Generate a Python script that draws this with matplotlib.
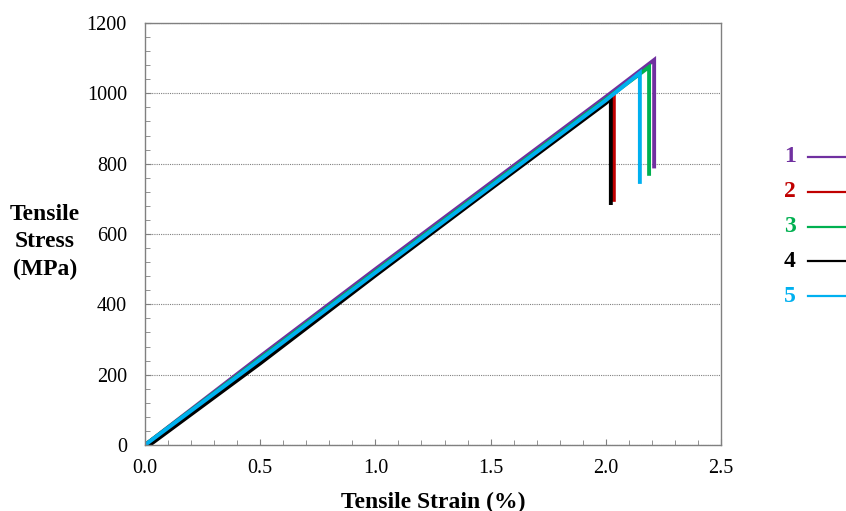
import numpy as np
import matplotlib
matplotlib.use("Agg")
import matplotlib.pyplot as plt
from matplotlib.lines import Line2D
from matplotlib.ticker import MultipleLocator

plt.rcParams['font.family'] = ['Liberation Serif', 'DejaVu Serif']

# strain (%) / stress (MPa) for the five specimens
strain_1 = [0.0, 0.5, 1.0, 1.5, 2.0, 2.21, 2.21]
stress_1 = [0, 252, 500, 745, 990, 1095, 792]
strain_2 = [0.0, 0.5, 1.0, 1.5, 2.0, 2.035, 2.035]
stress_2 = [0, 240, 488, 733, 975, 992, 697]
strain_3 = [0.0, 0.5, 1.0, 1.5, 2.0, 2.188, 2.188]
stress_3 = [0, 246, 493, 738, 983, 1075, 771]
strain_4 = [0.02, 0.5, 1.0, 1.5, 2.0, 2.022, 2.022]
stress_4 = [0, 232, 482, 728, 972, 985, 688]
strain_5 = [0.0, 0.5, 1.0, 1.5, 2.0, 2.148, 2.148]
stress_5 = [0, 243, 490, 735, 980, 1058, 748]

labels = ['1', '2', '3', '4', '5']
colors = ['#7030A0', '#C00000', '#00B050', '#000000', '#00B0F0']
strains = [strain_1, strain_2, strain_3, strain_4, strain_5]
stresses = [stress_1, stress_2, stress_3, stress_4, stress_5]

fig = plt.figure(figsize=(8.46, 5.11), dpi=100)
ax = fig.add_axes([0.1714, 0.1292, 0.6808, 0.8258])

for x, y, c in zip(strains, stresses, colors):
    ax.plot(x, y, color=c, lw=2.8, solid_joinstyle='miter')

ax.set_xlim(0, 2.5)
ax.set_ylim(0, 1200)
ax.xaxis.set_major_locator(MultipleLocator(0.5))
ax.xaxis.set_minor_locator(MultipleLocator(0.1))
ax.yaxis.set_major_locator(MultipleLocator(200))
ax.yaxis.set_minor_locator(MultipleLocator(40))
ax.set_xticklabels([f"{v:.1f}" for v in ax.get_xticks()])

ax.yaxis.grid(True, which='major', color='#808080', ls=(0, (1, 1)), lw=0.8)
ax.set_axisbelow(True)
for s in ax.spines.values():
    s.set_color('#808080')
    s.set_linewidth(1.0)
ax.tick_params(which='both', direction='in', color='#808080', labelsize=14.5,
               top=False, right=False)
ax.tick_params(which='major', length=4.5)
ax.tick_params(axis='y', which='major', pad=13)
ax.tick_params(axis='x', which='major', pad=10)
ax.tick_params(which='minor', length=3.5)

fig.text(45 / 846, 1 - 242 / 511, "Tensile\nStress\n(MPa)", ha='center', va='center',
         fontsize=17, fontweight='bold', linespacing=1.38)
fig.text(433 / 846, 1 - 502 / 511, "Tensile Strain (%)", ha='center', va='center',
         fontsize=17, fontweight='bold')

# legend drawn beside the plot
for i, (lab, c) in enumerate(zip(labels, colors)):
    yp = 1 - (157 + i * 34.8) / 511
    fig.text(790 / 846, yp, lab, color=c, ha='center', va='center',
             fontsize=17, fontweight='bold')
    fig.add_artist(Line2D([808 / 846, 846 / 846], [yp, yp], color=c, lw=1.6,
                          transform=fig.transFigure))

fig.savefig("out.png", dpi=100)
